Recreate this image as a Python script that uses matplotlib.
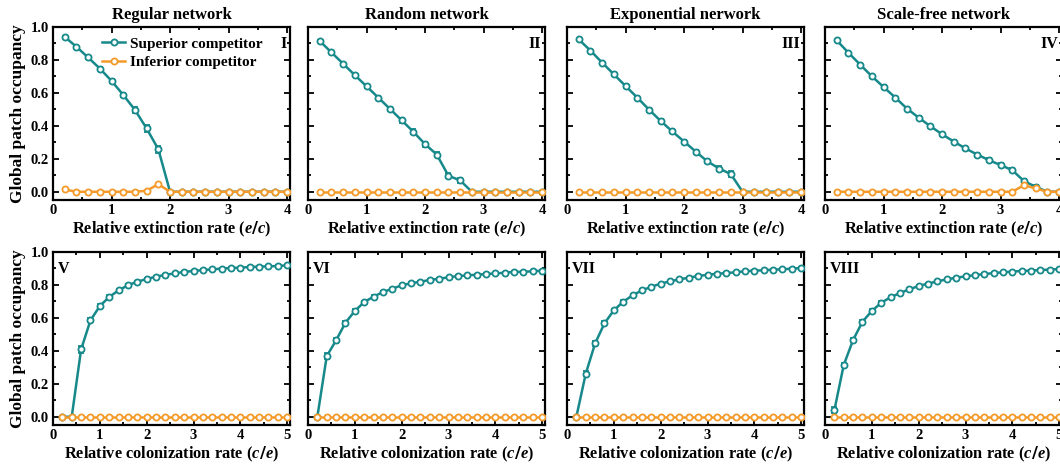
import numpy as np
import matplotlib
matplotlib.use("Agg")
import matplotlib.pyplot as plt
from matplotlib.ticker import MultipleLocator
from matplotlib.lines import Line2D

plt.rcParams['font.family'] = ['Liberation Serif', 'DejaVu Serif']
plt.rcParams['font.weight'] = 'bold'
plt.rcParams['mathtext.fontset'] = 'custom'
plt.rcParams['mathtext.it'] = 'Liberation Serif:italic:bold'

TEAL = '#17898a'
ORANGE = '#f39a2a'

titles = ["Regular network", "Random network", "Exponential nerwork", "Scale-free network"]
top_tags = ["I", "II", "III", "IV"]
bottom_tags = ["V", "VI", "VII", "VIII"]

# Relative extinction rate e/c (top row)
ext_rate = [0.2, 0.4, 0.6, 0.8, 1.0, 1.2, 1.4, 1.6, 1.8, 2.0,
            2.2, 2.4, 2.6, 2.8, 3.0, 3.2, 3.4, 3.6, 3.8, 4.0]

sup_regular_ext = [0.94, 0.88, 0.815, 0.748, 0.673, 0.588, 0.497, 0.384, 0.258, 0.0,
                   0, 0, 0, 0, 0, 0, 0, 0, 0, 0]
inf_regular_ext = [0.014, 0.0, 0.0, 0.0, 0.0, 0.0, 0.0, 0.006, 0.046, 0.0,
                   0, 0, 0, 0, 0, 0, 0, 0, 0, 0]
sup_random_ext = [0.915, 0.846, 0.777, 0.708, 0.640, 0.572, 0.503, 0.434, 0.364, 0.289,
                  0.226, 0.097, 0.069, 0.0, 0, 0, 0, 0, 0, 0]
inf_random_ext = [0] * 20
sup_expo_ext = [0.925, 0.857, 0.784, 0.713, 0.642, 0.572, 0.499, 0.430, 0.366, 0.305,
                0.244, 0.184, 0.141, 0.107, 0.0, 0, 0, 0, 0, 0]
inf_expo_ext = [0] * 20
sup_scale_ext = [0.919, 0.844, 0.772, 0.701, 0.636, 0.572, 0.505, 0.450, 0.398, 0.349,
                 0.305, 0.263, 0.226, 0.192, 0.162, 0.131, 0.065, 0.030, 0.0, 0.0]
inf_scale_ext = [0, 0, 0, 0, 0, 0, 0, 0, 0, 0,
                 0, 0, 0, 0, 0, 0, 0.040, 0.020, 0.0, 0.0]

# Standard errors of the superior competitor (top row)
err_regular_ext = [0.006, 0.006, 0.008, 0.01, 0.012, 0.014, 0.016, 0.022, 0.022, 0.0,
                   0, 0, 0, 0, 0, 0, 0, 0, 0, 0]
err_random_ext = [0.005, 0.006, 0.006, 0.008, 0.008, 0.01, 0.012, 0.014, 0.014, 0.016,
                  0.014, 0.014, 0.016, 0.0, 0, 0, 0, 0, 0, 0]
err_expo_ext = [0.005, 0.006, 0.006, 0.008, 0.01, 0.01, 0.012, 0.012, 0.012, 0.012,
                0.012, 0.012, 0.014, 0.016, 0.0, 0, 0, 0, 0, 0]
err_scale_ext = [0.005, 0.006, 0.008, 0.01, 0.01, 0.01, 0.01, 0.01, 0.01, 0.01,
                 0.01, 0.01, 0.012, 0.012, 0.012, 0.012, 0.012, 0.012, 0.0, 0.0]

# Relative colonization rate c/e (bottom row)
col_rate = [0.2, 0.4, 0.6, 0.8, 1.0, 1.2, 1.4, 1.6, 1.8, 2.0, 2.2, 2.4, 2.6,
            2.8, 3.0, 3.2, 3.4, 3.6, 3.8, 4.0, 4.2, 4.4, 4.6, 4.8, 5.0]

sup_regular_col = [0.0, 0.0, 0.409, 0.585, 0.672, 0.727, 0.767, 0.798, 0.820, 0.836,
                   0.850, 0.862, 0.870, 0.879, 0.885, 0.890, 0.895, 0.899, 0.903,
                   0.905, 0.909, 0.911, 0.913, 0.915, 0.919]
sup_random_col = [0.0, 0.368, 0.464, 0.571, 0.642, 0.696, 0.729, 0.757, 0.777, 0.798,
                  0.810, 0.820, 0.830, 0.838, 0.846, 0.854, 0.858, 0.862, 0.866,
                  0.870, 0.874, 0.879, 0.880, 0.883, 0.887]
sup_expo_col = [0.0, 0.261, 0.445, 0.567, 0.646, 0.698, 0.737, 0.767, 0.789, 0.808,
                0.822, 0.834, 0.844, 0.854, 0.862, 0.868, 0.872, 0.877, 0.883,
                0.887, 0.889, 0.893, 0.895, 0.899, 0.903]
sup_scale_col = [0.040, 0.314, 0.466, 0.577, 0.642, 0.692, 0.725, 0.751, 0.773, 0.794,
                 0.808, 0.822, 0.834, 0.844, 0.852, 0.860, 0.866, 0.872, 0.877,
                 0.881, 0.885, 0.887, 0.891, 0.893, 0.897]
inf_col = [0.0] * 25

err_regular_col = [0, 0, 0.02, 0.012, 0.012, 0.01, 0.008, 0.006, 0.006, 0.005,
                   0.005, 0.004, 0.004, 0.004, 0.004, 0.004, 0.004, 0.004, 0.004,
                   0.004, 0.004, 0.004, 0.004, 0.004, 0.004]
err_random_col = [0, 0.016, 0.016, 0.012, 0.01, 0.008, 0.007, 0.006, 0.006, 0.005,
                  0.005, 0.004, 0.004, 0.004, 0.004, 0.004, 0.004, 0.004, 0.004,
                  0.004, 0.004, 0.004, 0.004, 0.004, 0.004]
err_expo_col = [0, 0.016, 0.014, 0.012, 0.01, 0.008, 0.007, 0.006, 0.006, 0.005,
                0.005, 0.004, 0.004, 0.004, 0.004, 0.004, 0.004, 0.004, 0.004,
                0.004, 0.004, 0.004, 0.004, 0.004, 0.004]
err_scale_col = [0.02, 0.014, 0.012, 0.01, 0.01, 0.008, 0.007, 0.006, 0.006, 0.005,
                 0.005, 0.004, 0.004, 0.004, 0.004, 0.004, 0.004, 0.004, 0.004,
                 0.004, 0.004, 0.004, 0.004, 0.004, 0.004]

top_sup = [sup_regular_ext, sup_random_ext, sup_expo_ext, sup_scale_ext]
top_inf = [inf_regular_ext, inf_random_ext, inf_expo_ext, inf_scale_ext]
top_err = [err_regular_ext, err_random_ext, err_expo_ext, err_scale_ext]
bot_sup = [sup_regular_col, sup_random_col, sup_expo_col, sup_scale_col]
bot_err = [err_regular_col, err_random_col, err_expo_col, err_scale_col]

W, H = 1060, 466
fig = plt.figure(figsize=(W / 100, H / 100), dpi=100)

lefts = [53, 308, 567, 825]
ax_w = 237
top_row = (27, 200)      # pixel top / bottom of upper panels
bot_row = (252, 425)     # pixel top / bottom of lower panels


def make_ax(left, row):
    t, b = row
    return fig.add_axes([left / W, 1 - b / H, ax_w / W, (b - t) / H])


def style_ax(ax, xmax, xlabel, show_y):
    ax.set_ylim(-0.05, 1.0)
    ax.set_xlim(0, xmax)
    ax.xaxis.set_major_locator(MultipleLocator(1))
    ax.xaxis.set_minor_locator(MultipleLocator(0.5))
    ax.yaxis.set_major_locator(MultipleLocator(0.2))
    ax.yaxis.set_minor_locator(MultipleLocator(0.1))
    ax.tick_params(which='both', direction='in', top=True, right=True,
                   width=1.3, labelsize=10.5, pad=3)
    ax.tick_params(which='major', length=4)
    ax.tick_params(which='minor', length=2.2)
    for s in ax.spines.values():
        s.set_linewidth(1.6)
    ax.set_xticks(range(0, int(xmax) + 1))
    ax.set_xticklabels([str(i) for i in range(0, int(xmax) + 1)], fontweight='bold')
    if show_y:
        ax.set_yticks([0.0, 0.2, 0.4, 0.6, 0.8, 1.0])
        ax.set_yticklabels(["0.0", "0.2", "0.4", "0.6", "0.8", "1.0"], fontweight='bold')
        ax.set_ylabel("Global patch occupancy", fontsize=12.5, fontweight='bold', labelpad=3)
    else:
        ax.set_yticklabels([])
    ax.set_xlabel(xlabel, fontsize=11.8, fontweight='bold', labelpad=2)


def draw(ax, x, sup, err, inf):
    ax.errorbar(x, sup, yerr=err, color=TEAL, lw=1.8, marker='o', ms=4.4,
                mfc='white', mec=TEAL, mew=1.3, capsize=2.2, elinewidth=1.0,
                capthick=1.0, zorder=3)
    ax.plot(x, inf, color=ORANGE, lw=1.8, marker='o', ms=4.4, mfc='white',
            mec=ORANGE, mew=1.3, zorder=4)


legend_handles = [
    Line2D([], [], color=TEAL, lw=1.8, marker='o', ms=4.4, mfc='white', mec=TEAL,
           mew=1.3, label="Superior competitor"),
    Line2D([], [], color=ORANGE, lw=1.8, marker='o', ms=4.4, mfc='white', mec=ORANGE,
           mew=1.3, label="Inferior competitor"),
]

for i in range(4):
    ax = make_ax(lefts[i], top_row)
    draw(ax, ext_rate, top_sup[i], top_err[i], top_inf[i])
    style_ax(ax, 4.05, r"Relative extinction rate ($e/c$)", i == 0)
    ax.set_title(titles[i], fontsize=12, fontweight='bold', pad=6)
    ax.text(0.985, 0.9, top_tags[i], transform=ax.transAxes, ha='right',
            va='center', fontsize=11.5, fontweight='bold')
    if i == 0:
        ax.legend(handles=legend_handles, loc='upper left',
                  bbox_to_anchor=(0.17, 0.995), frameon=False,
                  fontsize=11, handlelength=1.5, handletextpad=0.3,
                  labelspacing=0.33, borderaxespad=0.2)

    axb = make_ax(lefts[i], bot_row)
    draw(axb, col_rate, bot_sup[i], bot_err[i], inf_col)
    style_ax(axb, 5.06, r"Relative colonization rate ($c/e$)", i == 0)
    axb.text(0.02, 0.9, bottom_tags[i], transform=axb.transAxes, ha='left',
             va='center', fontsize=11.5, fontweight='bold')

fig.savefig("out.png", dpi=100)
